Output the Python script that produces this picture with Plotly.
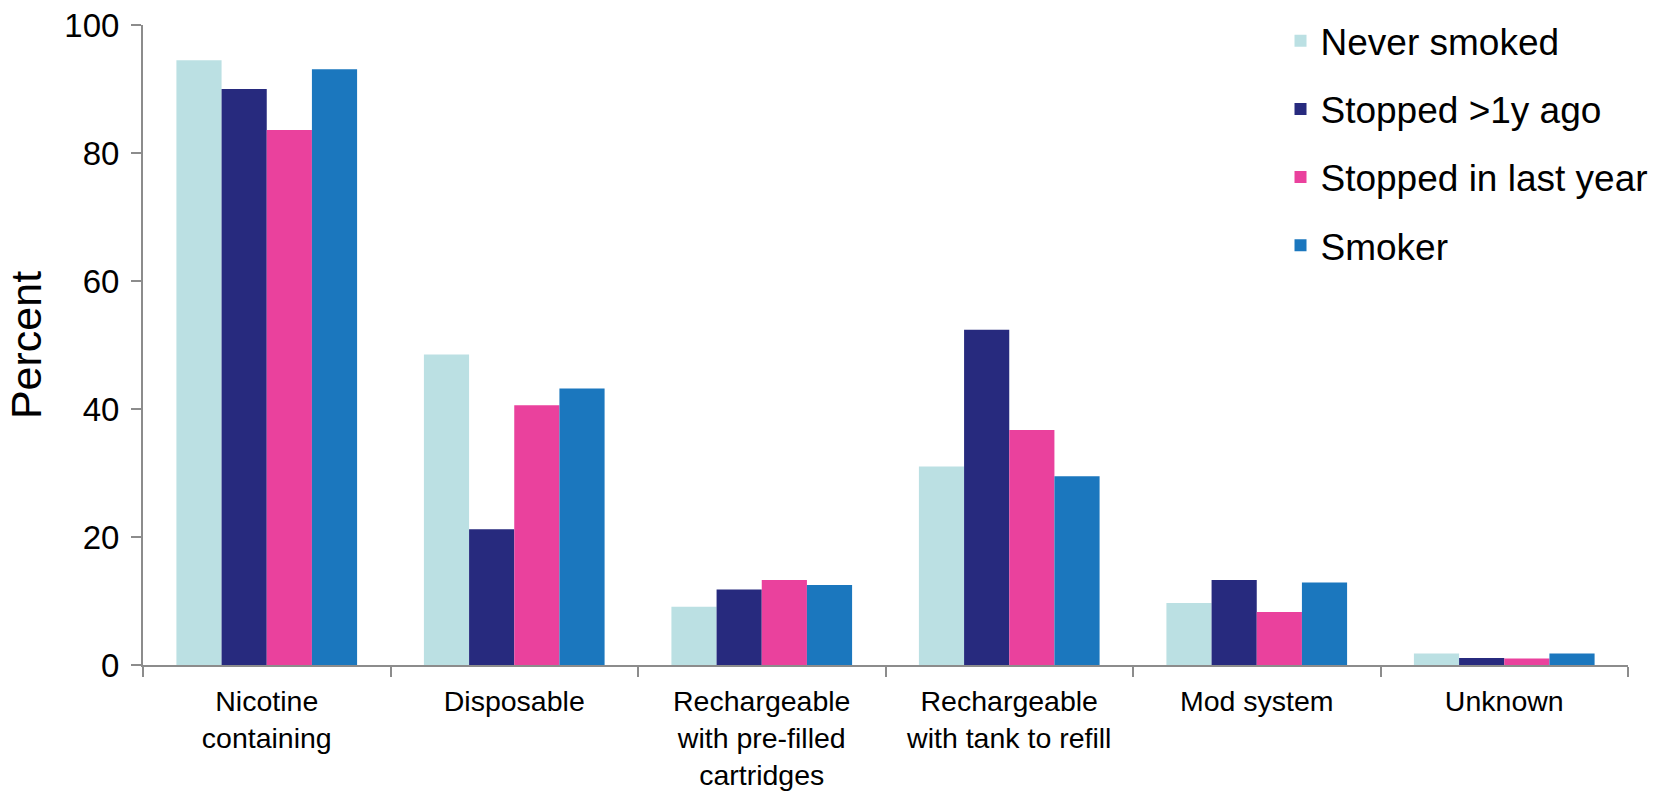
import plotly.graph_objects as go

# Device types and share of users (%) in each smoking-status group
categories = [
    "Nicotine<br>containing",
    "Disposable",
    "Rechargeable<br>with pre-filled<br>cartridges",
    "Rechargeable<br>with tank to refill",
    "Mod system",
    "Unknown",
]
never_smoked = [94.5, 48.5, 9.1, 31.0, 9.7, 1.8]
stopped_over_1y = [90.0, 21.2, 11.8, 52.4, 13.3, 1.1]
stopped_last_year = [83.6, 40.6, 13.3, 36.7, 8.3, 1.0]
smoker = [93.1, 43.2, 12.5, 29.5, 12.9, 1.8]

series = [
    ("Never smoked", never_smoked, "#BBE0E3"),
    ("Stopped >1y ago", stopped_over_1y, "#272A7E"),
    ("Stopped in last year", stopped_last_year, "#EA419D"),
    ("Smoker", smoker, "#1B77BE"),
]

FONT = "Arial, 'Liberation Sans', sans-serif"
AXIS_GREY = "#8C8C8C"

fig = go.Figure()
for name, values, color in series:
    fig.add_trace(go.Bar(
        name=name,
        x=categories,
        y=values,
        marker=dict(color=color, line=dict(width=0)),
        legendgroup=name,
    ))

fig.update_layout(
    width=1657,
    height=793,
    paper_bgcolor="white",
    plot_bgcolor="white",
    barmode="group",
    bargap=0.27,
    bargroupgap=0,
    margin=dict(l=143, r=29, t=25, b=128, autoexpand=False),
    font=dict(family=FONT, color="black"),
    legend=dict(
        x=0.766, xanchor="left",
        y=1.023, yanchor="top",
        font=dict(size=37, family=FONT, color="black"),
        tracegroupgap=17,
        bgcolor="rgba(0,0,0,0)",
    ),
)

fig.update_xaxes(
    automargin=False,
    showline=True, linecolor=AXIS_GREY, linewidth=2,
    ticks="outside", tickson="boundaries", ticklen=10, tickwidth=1.5,
    tickcolor=AXIS_GREY,
    tickfont=dict(size=28.5, family=FONT, color="black"),
    ticklabelstandoff=10,
    showgrid=False, zeroline=False,
)
fig.update_yaxes(
    automargin=False,
    range=[0, 100],
    tickvals=[0, 20, 40, 60, 80, 100],
    showline=True, linecolor=AXIS_GREY, linewidth=2,
    ticks="outside", ticklen=10, tickwidth=1.5, tickcolor=AXIS_GREY,
    tickfont=dict(size=33, family=FONT, color="black"),
    ticklabelstandoff=5,
    title=dict(text="Percent", font=dict(size=43, family=FONT, color="black"),
               standoff=9),
    showgrid=False, zeroline=False,
)

fig.write_html("out.html")
